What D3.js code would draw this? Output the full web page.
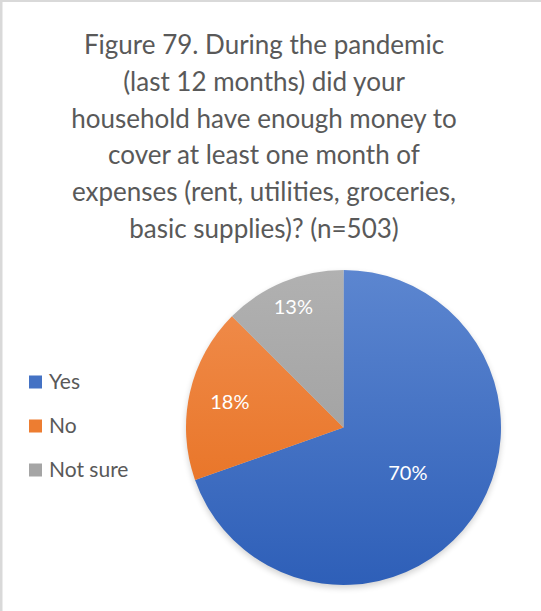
<!DOCTYPE html>
<html lang="en">
<head>
<meta charset="UTF-8">
<title>Figure 79</title>
<script src="https://cdn.jsdelivr.net/npm/d3@7"></script>
<style>
  body { margin: 0; background: #fff; }
  text { font-family: Lato, "Open Sans", sans-serif; }
</style>
</head>
<body>
<script>
var titleLines = [
  "Figure 79. During the pandemic",
  "(last 12 months) did your",
  "household have enough money to",
  "cover at least one month of",
  "expenses (rent, utilities, groceries,",
  "basic supplies)? (n=503)"
];
var categories = ["Yes", "No", "Not sure"];
var counts = [350, 90, 63];   // n=503
var percentLabels = ["70%", "18%", "13%"];
var colors = ["#4472c4", "#ed7d31", "#a5a5a5"];
var colorsLight = ["#5c86d0", "#f18f50", "#b1b1b1"];
var colorsDark = ["#2e5fb8", "#e56a17", "#979797"];
var labelRadius = [0.5, 0.74, 0.83];

var width = 541, height = 611;
var cx = 343.5, cy = 427.5, radius = 157.5;

var svg = d3.select("body").append("svg")
    .attr("width", width)
    .attr("height", height);

// thin grey frame at the left / top edge
svg.append("line").attr("x1", 1).attr("x2", 1).attr("y1", 0).attr("y2", height)
    .attr("stroke", "#d9d9d9").attr("stroke-width", 3);
svg.append("line").attr("x1", 0).attr("x2", width).attr("y1", 1).attr("y2", 1)
    .attr("stroke", "#d9d9d9").attr("stroke-width", 2);

var defs = svg.append("defs");
categories.forEach(function(c, i) {
  var g = defs.append("linearGradient")
      .attr("id", "grad" + i)
      .attr("gradientUnits", "userSpaceOnUse")
      .attr("x1", 0).attr("x2", 0)
      .attr("y1", -radius).attr("y2", radius);
  g.append("stop").attr("offset", "0%").attr("stop-color", colorsLight[i]);
  g.append("stop").attr("offset", "100%").attr("stop-color", colorsDark[i]);
});
var blur = defs.append("filter").attr("id", "shadow")
    .attr("x", "-10%").attr("y", "-10%").attr("width", "120%").attr("height", "120%");
blur.append("feGaussianBlur").attr("stdDeviation", 3);

// title
svg.append("g").selectAll("text")
    .data(titleLines)
    .join("text")
    .attr("x", 264)
    .attr("y", function(d, i) { return 54 + i * 36.8; })
    .attr("text-anchor", "middle")
    .attr("font-size", 26)
    .attr("fill", "#595959")
    .text(function(d) { return d; });

// pie
var pie = d3.pie().sort(null).value(function(d) { return d; });
var arcs = pie(counts);
var arc = d3.arc().innerRadius(0).outerRadius(radius);

var pieG = svg.append("g").attr("transform", "translate(" + cx + "," + cy + ")");

pieG.append("circle")
    .attr("cx", 0).attr("cy", 3).attr("r", radius)
    .attr("fill", "#000").attr("opacity", 0.18)
    .attr("filter", "url(#shadow)");

pieG.selectAll("path.slice")
    .data(arcs)
    .join("path")
    .attr("class", "slice")
    .attr("d", arc)
    .attr("fill", function(d, i) { return "url(#grad" + i + ")"; });

pieG.selectAll("text.pct")
    .data(arcs)
    .join("text")
    .attr("class", "pct")
    .attr("transform", function(d, i) {
      var r = radius * labelRadius[i];
      var c = d3.arc().innerRadius(r).outerRadius(r).centroid(d);
      return "translate(" + c + ")";
    })
    .attr("text-anchor", "middle")
    .attr("dy", "0.35em")
    .attr("font-size", 20)
    .attr("fill", "#fff")
    .text(function(d, i) { return percentLabels[i]; });

// legend
var legend = svg.append("g").selectAll("g")
    .data(categories)
    .join("g")
    .attr("transform", function(d, i) { return "translate(29," + (382 + i * 44) + ")"; });
legend.append("rect")
    .attr("x", 0).attr("y", -6.5)
    .attr("width", 13).attr("height", 13)
    .attr("fill", function(d, i) { return "url(#lg" + i + ")"; })
    .attr("fill", function(d, i) { return colors[i]; });
legend.append("text")
    .attr("x", 20)
    .attr("dy", "0.35em")
    .attr("font-size", 21)
    .attr("fill", "#595959")
    .text(function(d) { return d; });
</script>
</body>
</html>
